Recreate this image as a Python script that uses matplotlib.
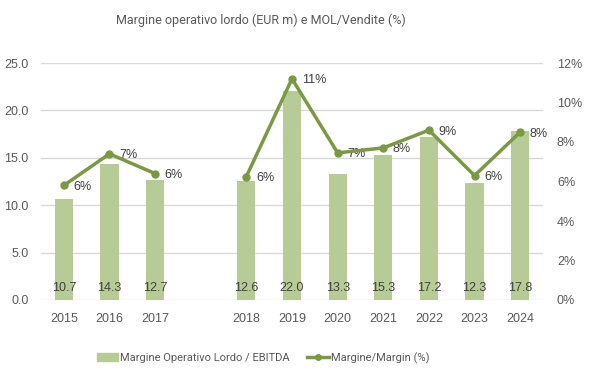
import numpy as np
import matplotlib.pyplot as plt
from matplotlib.lines import Line2D
from matplotlib.patches import Patch

years = ["2015", "2016", "2017", "", "2018", "2019", "2020", "2021", "2022", "2023", "2024"]
ebitda = [10.7, 14.3, 12.7, np.nan, 12.6, 22.0, 13.3, 15.3, 17.2, 12.3, 17.8]
margin = [5.8, 7.4, 6.4, np.nan, 6.25, 11.2, 7.45, 7.7, 8.6, 6.3, 8.5]
margin_lbl = ["6%", "7%", "6%", "", "6%", "11%", "7%", "8%", "9%", "6%", "8%"]

bar_col = "#B6CB95"
line_col = "#7A9A41"
txt_col = "#595959"
grid_col = "#D9D9D9"

plt.rcParams['font.family'] = ['Liberation Sans', 'DejaVu Sans']
narrow = ['Roboto', 'DejaVu Sans']

fig = plt.figure(figsize=(6.02, 3.78), dpi=100)
ax = fig.add_axes([41 / 602, 78 / 378, 502 / 602, 237 / 378])
ax2 = ax.twinx()

x = np.arange(len(years))
ax.bar(x, ebitda, width=0.4, color=bar_col, zorder=2)
ax.set_xlim(-0.5, len(years) - 0.5)
ax.set_ylim(0, 25)
ax.set_yticks(np.arange(0, 26, 5))
ax.set_yticklabels([f"{v:.1f}" for v in np.arange(0, 26, 5)])
ax.set_xticks(x)
ax.set_xticklabels(years)
ax.yaxis.grid(True, color=grid_col, linewidth=1)
ax.set_axisbelow(True)
for s in ax.spines.values():
    s.set_visible(False)
for s in ax2.spines.values():
    s.set_visible(False)
ax.tick_params(length=0, labelsize=9, colors=txt_col, pad=9)
ax.tick_params(axis='x', pad=9)

# etichette valori barre
for xi, v in zip(x, ebitda):
    if not np.isnan(v):
        ax.text(xi, 1.3, f"{v:.1f}", ha='center', va='center', fontsize=9, color="#404040", zorder=3)

ax2.plot(x, margin, color=line_col, linewidth=2.5, marker='o', markersize=5, zorder=4)
ax2.set_ylim(0, 12)
ax2.set_yticks(np.arange(0, 13, 2))
ax2.set_yticklabels([f"{v}%" for v in range(0, 13, 2)])
ax2.tick_params(length=0, labelsize=9, colors=txt_col, pad=10)
for xi, v, l in zip(x, margin, margin_lbl):
    if l:
        ax2.annotate(l, (xi, v), xytext=(7, -1), textcoords='offset points',
                     ha='left', va='center', fontsize=9, color="#404040")

fig.text(261 / 602, 1 - 20 / 378, "Margine operativo lordo (EUR m) e MOL/Vendite (%)",
         ha='center', va='center', fontsize=9, color=txt_col, family=narrow)

handles = [Patch(color=bar_col), Line2D([], [], color=line_col, linewidth=2.5, marker='o', markersize=4)]
fig.legend(handles, ["Margine Operativo Lordo / EBITDA", "Margine/Margin (%)"],
           loc='center', bbox_to_anchor=(263 / 602, 1 - 358 / 378), ncol=2, frameon=False,
           labelcolor=txt_col, handlelength=1.9, handletextpad=0.2,
           columnspacing=1.6, prop={'family': narrow, 'size': 8})

fig.savefig("out.png", dpi=100)
